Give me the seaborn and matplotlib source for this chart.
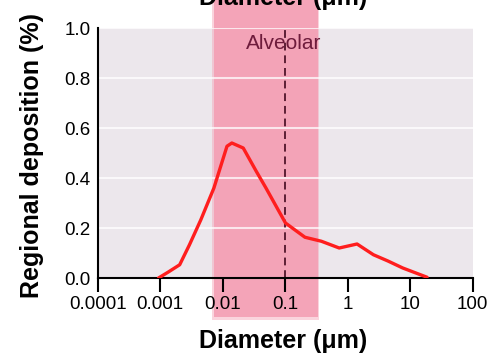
import matplotlib
matplotlib.use("Agg")

import matplotlib.pyplot as plt
import seaborn as sns
from matplotlib.ticker import NullLocator


# Deposition curve
diameter_um = [0.00094, 0.00135, 0.00205, 0.00294, 0.00447, 0.00723,
               0.0117, 0.0140, 0.0213, 0.0344, 0.0492, 0.101, 0.207,
               0.379, 0.731, 1.41, 2.58, 4.4, 7.6, 18.6]
deposition = [0.0, 0.024, 0.053, 0.133, 0.233, 0.36,
              0.527, 0.54, 0.52, 0.427, 0.36, 0.22, 0.163,
              0.147, 0.12, 0.136, 0.093, 0.068, 0.04, 0.003]

# Alveolar size band and marker
alveolar_range = (0.0072, 0.33)
marker_diameter = 0.1

x_ticks = [0.0001, 0.001, 0.01, 0.1, 1, 10, 100]
x_tick_labels = ["0.0001", "0.001", "0.01", "0.1", "1", "10", "100"]
y_ticks = [0.0, 0.2, 0.4, 0.6, 0.8, 1.0]
y_tick_labels = ["0.0", "0.2", "0.4", "0.6", "0.8", "1.0"]


sns.set_style("white")
plt.rcParams["font.family"] = ["Liberation Sans", "DejaVu Sans"]
plt.rcParams["text.color"] = "black"
plt.rcParams["axes.labelcolor"] = "black"
plt.rcParams["xtick.color"] = "black"
plt.rcParams["ytick.color"] = "black"

fig = plt.figure(figsize=(4.89, 3.55), dpi=100)
ax = fig.add_axes([0.1998, 0.2169, 0.7669, 0.7042])
ax.set_facecolor("#ECE7EC")

# Pink band with soft edges, reaching outside the axes
band_color = "#F4A0B5"
ax.axvspan(alveolar_range[0] * 10 ** -0.03, alveolar_range[1] * 10 ** 0.03,
           ymin=-0.17, ymax=1.13, color=band_color, alpha=0.45,
           lw=0, clip_on=False, zorder=1)
ax.axvspan(alveolar_range[0], alveolar_range[1],
           ymin=-0.156, ymax=1.13, color=band_color, alpha=0.92,
           lw=0, clip_on=False, zorder=1)

ax.axvline(marker_diameter, color="#5C1F35", lw=1.4,
           ls=(0, (4, 2.5)), zorder=2)

sns.lineplot(x=diameter_um, y=deposition, ax=ax, color="#FF1E1E",
             lw=2.4, sort=False, estimator=None, zorder=3)

ax.text(0.0957, 0.94, "Alveolar", ha="center", va="center",
        fontsize=15, color="#6E1C3C", zorder=4)

ax.set_xscale("log")
ax.set_xlim(1e-4, 100)
ax.set_ylim(0, 1)
ax.set_xticks(x_ticks)
ax.set_xticklabels(x_tick_labels)
ax.xaxis.set_minor_locator(NullLocator())
ax.set_yticks(y_ticks)
ax.set_yticklabels(y_tick_labels)

ax.set_axisbelow("line")
ax.grid(axis="y", color="white", lw=1.5, alpha=0.75)
ax.grid(axis="x", visible=False)

ax.tick_params(axis="x", length=10, width=1.5, pad=3, labelsize=13.5,
               direction="out", bottom=True)
ax.tick_params(axis="y", length=0, pad=5, labelsize=13.5)

for side in ["top", "right"]:
    ax.spines[side].set_visible(False)
for side in ["left", "bottom"]:
    ax.spines[side].set_color("black")
    ax.spines[side].set_linewidth(1.5)

ax.set_xlabel("Diameter (μm)", fontsize=18, fontweight="bold")
ax.xaxis.set_label_coords(0.494, -0.204)
ax.set_ylabel("Regional deposition (%)", fontsize=18, fontweight="bold")
ax.yaxis.set_label_coords(-0.143, 0.49)

# Cut-off label from the panel above
fig.text(283 / 489, 1 - 5 / 355, "Diameter (μm)", ha="center",
         va="baseline", fontsize=18, fontweight="bold")

fig.savefig("out.png", dpi=100)
plt.close(fig)
